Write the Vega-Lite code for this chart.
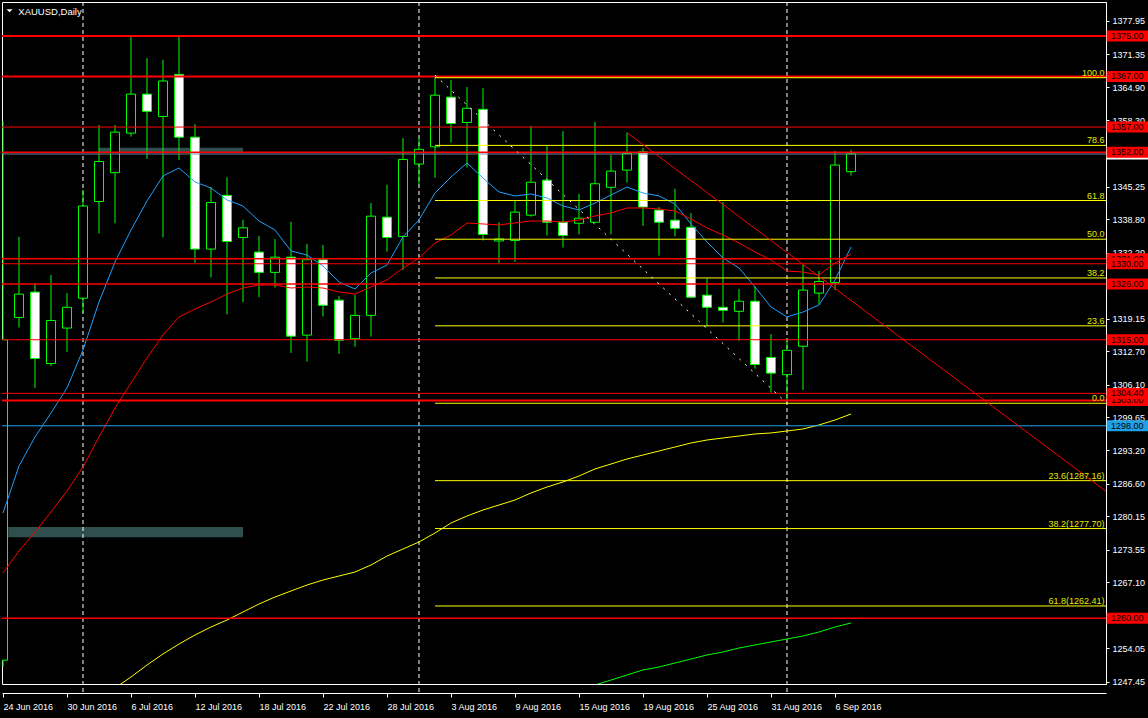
{
  "$schema": "https://vega.github.io/schema/vega-lite/v6.json",
  "width": 1104,
  "height": 682,
  "autosize": {"type": "none"},
  "padding": {"left": 2, "top": 2, "right": 42, "bottom": 34},
  "background": "#000000",
  "config": {"view": {"stroke": "#FFFFFF", "strokeWidth": 1}, "axis": {"title": null, "grid": false, "labelOverlap": false}, "scale": {"continuousPadding": 0}},
  "datasets": {
    "candles": [
      {"d": "2016-06-24", "i": 0, "open": 1251.7, "high": 1358.2, "low": 1250.4, "close": 1315.0},
      {"d": "2016-06-27", "i": 1, "open": 1319.4, "high": 1335.3, "low": 1317.4, "close": 1324.0},
      {"d": "2016-06-28", "i": 2, "open": 1324.4, "high": 1326.2, "low": 1305.5, "close": 1311.3},
      {"d": "2016-06-29", "i": 3, "open": 1310.3, "high": 1327.8, "low": 1309.8, "close": 1318.8},
      {"d": "2016-06-30", "i": 4, "open": 1317.3, "high": 1324.2, "low": 1312.6, "close": 1321.4},
      {"d": "2016-07-01", "i": 5, "open": 1323.2, "high": 1344.6, "low": 1320.3, "close": 1341.4},
      {"d": "2016-07-04", "i": 6, "open": 1342.3, "high": 1357.4, "low": 1336.0, "close": 1350.2},
      {"d": "2016-07-05", "i": 7, "open": 1348.0, "high": 1357.4, "low": 1338.0, "close": 1356.0},
      {"d": "2016-07-06", "i": 8, "open": 1355.8, "high": 1374.9, "low": 1355.1, "close": 1363.5},
      {"d": "2016-07-07", "i": 9, "open": 1363.5, "high": 1370.6, "low": 1350.7, "close": 1360.1},
      {"d": "2016-07-08", "i": 10, "open": 1359.1, "high": 1370.3, "low": 1335.2, "close": 1366.1},
      {"d": "2016-07-11", "i": 11, "open": 1367.4, "high": 1374.9, "low": 1350.5, "close": 1355.0},
      {"d": "2016-07-12", "i": 12, "open": 1355.0, "high": 1357.6, "low": 1330.2, "close": 1332.9},
      {"d": "2016-07-13", "i": 13, "open": 1332.9, "high": 1345.1, "low": 1327.3, "close": 1342.1},
      {"d": "2016-07-14", "i": 14, "open": 1343.5, "high": 1347.1, "low": 1320.0, "close": 1334.4},
      {"d": "2016-07-15", "i": 15, "open": 1335.2, "high": 1338.7, "low": 1322.4, "close": 1337.1},
      {"d": "2016-07-18", "i": 16, "open": 1332.3, "high": 1335.5, "low": 1323.4, "close": 1328.3},
      {"d": "2016-07-19", "i": 17, "open": 1328.3, "high": 1334.9, "low": 1325.3, "close": 1331.3},
      {"d": "2016-07-20", "i": 18, "open": 1331.3, "high": 1338.3, "low": 1312.4, "close": 1315.7},
      {"d": "2016-07-21", "i": 19, "open": 1315.9, "high": 1333.9, "low": 1310.7, "close": 1330.8},
      {"d": "2016-07-22", "i": 20, "open": 1330.8, "high": 1333.7, "low": 1319.6, "close": 1321.8},
      {"d": "2016-07-25", "i": 21, "open": 1322.8, "high": 1323.6, "low": 1312.2, "close": 1314.9},
      {"d": "2016-07-26", "i": 22, "open": 1315.2, "high": 1323.8, "low": 1313.6, "close": 1319.8},
      {"d": "2016-07-27", "i": 23, "open": 1319.8, "high": 1342.0, "low": 1315.6, "close": 1339.4},
      {"d": "2016-07-28", "i": 24, "open": 1339.2, "high": 1345.6, "low": 1332.4, "close": 1335.2},
      {"d": "2016-07-29", "i": 25, "open": 1335.4, "high": 1354.8, "low": 1328.8, "close": 1350.6},
      {"d": "2016-08-01", "i": 26, "open": 1349.7, "high": 1354.8, "low": 1345.6, "close": 1352.6},
      {"d": "2016-08-02", "i": 27, "open": 1353.1, "high": 1367.2, "low": 1347.0, "close": 1363.3},
      {"d": "2016-08-03", "i": 28, "open": 1362.9, "high": 1366.3, "low": 1353.9, "close": 1357.7},
      {"d": "2016-08-04", "i": 29, "open": 1357.9, "high": 1364.9, "low": 1349.0, "close": 1360.7},
      {"d": "2016-08-05", "i": 30, "open": 1360.5, "high": 1364.7, "low": 1334.6, "close": 1335.8},
      {"d": "2016-08-08", "i": 31, "open": 1334.5, "high": 1338.2, "low": 1330.1, "close": 1334.9},
      {"d": "2016-08-09", "i": 32, "open": 1334.6, "high": 1342.5, "low": 1330.4, "close": 1340.2},
      {"d": "2016-08-10", "i": 33, "open": 1339.6, "high": 1357.2, "low": 1339.3, "close": 1346.1},
      {"d": "2016-08-11", "i": 34, "open": 1346.5, "high": 1353.3, "low": 1335.6, "close": 1338.2},
      {"d": "2016-08-12", "i": 35, "open": 1338.2, "high": 1356.2, "low": 1333.2, "close": 1335.6},
      {"d": "2016-08-15", "i": 36, "open": 1338.0, "high": 1343.8, "low": 1335.8, "close": 1339.0},
      {"d": "2016-08-16", "i": 37, "open": 1338.2, "high": 1358.0, "low": 1338.0, "close": 1345.8},
      {"d": "2016-08-17", "i": 38, "open": 1345.1, "high": 1351.5, "low": 1335.8, "close": 1348.3},
      {"d": "2016-08-18", "i": 39, "open": 1348.5, "high": 1355.9, "low": 1346.0, "close": 1351.8},
      {"d": "2016-08-19", "i": 40, "open": 1352.1, "high": 1352.9, "low": 1337.5, "close": 1341.2},
      {"d": "2016-08-22", "i": 41, "open": 1340.6, "high": 1341.2, "low": 1331.6, "close": 1338.2},
      {"d": "2016-08-23", "i": 42, "open": 1338.6, "high": 1344.8, "low": 1335.4, "close": 1337.0},
      {"d": "2016-08-24", "i": 43, "open": 1337.2, "high": 1340.0, "low": 1323.2, "close": 1323.4},
      {"d": "2016-08-25", "i": 44, "open": 1323.8, "high": 1327.1, "low": 1317.6, "close": 1321.4},
      {"d": "2016-08-26", "i": 45, "open": 1321.4, "high": 1342.2, "low": 1318.4, "close": 1320.8},
      {"d": "2016-08-29", "i": 46, "open": 1320.6, "high": 1325.0, "low": 1314.8, "close": 1322.6},
      {"d": "2016-08-30", "i": 47, "open": 1322.6, "high": 1325.5, "low": 1309.3, "close": 1310.1},
      {"d": "2016-08-31", "i": 48, "open": 1311.5, "high": 1316.1, "low": 1304.6, "close": 1308.4},
      {"d": "2016-09-01", "i": 49, "open": 1308.1, "high": 1315.1, "low": 1302.5, "close": 1312.9},
      {"d": "2016-09-02", "i": 50, "open": 1313.7, "high": 1329.9, "low": 1305.1, "close": 1324.8},
      {"d": "2016-09-05", "i": 51, "open": 1324.2, "high": 1328.6, "low": 1322.0, "close": 1326.5},
      {"d": "2016-09-06", "i": 52, "open": 1326.3, "high": 1352.3, "low": 1324.8, "close": 1349.5},
      {"d": "2016-09-07", "i": 53, "open": 1348.2, "high": 1352.5, "low": 1347.4, "close": 1351.7}
    ],
    "ma": [
      {"i": 0, "fast": 1280.77, "medium": 1268.92},
      {"i": 1, "fast": 1290.06, "medium": 1273.27},
      {"i": 2, "fast": 1295.79, "medium": 1277.02},
      {"i": 3, "fast": 1300.53, "medium": 1280.97},
      {"i": 4, "fast": 1305.46, "medium": 1285.12},
      {"i": 5, "fast": 1312.97, "medium": 1289.86},
      {"i": 6, "fast": 1322.45, "medium": 1295.79},
      {"i": 7, "fast": 1330.35, "medium": 1301.51, "slow": 1246.21},
      {"i": 8, "fast": 1336.67, "medium": 1306.45, "slow": 1248.38},
      {"i": 9, "fast": 1342.40, "medium": 1311.39, "slow": 1250.75},
      {"i": 10, "fast": 1347.34, "medium": 1315.93, "slow": 1252.93},
      {"i": 11, "fast": 1348.92, "medium": 1319.49, "slow": 1254.90},
      {"i": 12, "fast": 1346.15, "medium": 1321.07, "slow": 1256.68},
      {"i": 13, "fast": 1344.97, "medium": 1322.45, "slow": 1258.26},
      {"i": 14, "fast": 1342.60, "medium": 1324.03, "slow": 1259.64},
      {"i": 15, "fast": 1341.41, "medium": 1325.21, "slow": 1261.22},
      {"i": 16, "fast": 1338.45, "medium": 1325.81, "slow": 1262.80},
      {"i": 17, "fast": 1336.67, "medium": 1325.81, "slow": 1264.18},
      {"i": 18, "fast": 1332.52, "medium": 1325.21, "slow": 1265.37},
      {"i": 19, "fast": 1331.73, "medium": 1325.41, "slow": 1266.55},
      {"i": 20, "fast": 1329.56, "medium": 1325.21, "slow": 1267.54},
      {"i": 21, "fast": 1326.40, "medium": 1324.42, "slow": 1268.33},
      {"i": 22, "fast": 1325.02, "medium": 1324.03, "slow": 1269.12},
      {"i": 23, "fast": 1328.18, "medium": 1325.41, "slow": 1270.50},
      {"i": 24, "fast": 1329.76, "medium": 1326.80, "slow": 1272.28},
      {"i": 25, "fast": 1335.29, "medium": 1329.16, "slow": 1273.66},
      {"i": 26, "fast": 1338.65, "medium": 1331.14, "slow": 1275.05},
      {"i": 27, "fast": 1343.98, "medium": 1334.10, "slow": 1276.82},
      {"i": 28, "fast": 1347.14, "medium": 1335.68, "slow": 1278.80},
      {"i": 29, "fast": 1349.90, "medium": 1338.05, "slow": 1280.18},
      {"i": 30, "fast": 1346.94, "medium": 1337.86, "slow": 1281.37},
      {"i": 31, "fast": 1344.18, "medium": 1337.66, "slow": 1282.35},
      {"i": 32, "fast": 1343.39, "medium": 1338.05, "slow": 1283.34},
      {"i": 33, "fast": 1343.78, "medium": 1338.45, "slow": 1284.73},
      {"i": 34, "fast": 1342.99, "medium": 1338.45, "slow": 1285.91},
      {"i": 35, "fast": 1341.41, "medium": 1338.25, "slow": 1286.90},
      {"i": 36, "fast": 1340.62, "medium": 1338.65, "slow": 1288.08, "long": 1245.82},
      {"i": 37, "fast": 1342.00, "medium": 1339.44, "slow": 1289.47, "long": 1246.80},
      {"i": 38, "fast": 1343.58, "medium": 1340.03, "slow": 1290.45, "long": 1247.79},
      {"i": 39, "fast": 1345.16, "medium": 1341.02, "slow": 1291.44, "long": 1248.78},
      {"i": 40, "fast": 1343.98, "medium": 1341.02, "slow": 1292.23, "long": 1249.77},
      {"i": 41, "fast": 1343.39, "medium": 1340.82, "slow": 1293.02, "long": 1250.36},
      {"i": 42, "fast": 1341.81, "medium": 1340.42, "slow": 1293.81, "long": 1251.15},
      {"i": 43, "fast": 1337.86, "medium": 1338.84, "slow": 1294.60, "long": 1251.94},
      {"i": 44, "fast": 1334.30, "medium": 1337.07, "slow": 1295.19, "long": 1252.73},
      {"i": 45, "fast": 1331.14, "medium": 1335.68, "slow": 1295.59, "long": 1253.32},
      {"i": 46, "fast": 1329.16, "medium": 1334.10, "slow": 1295.98, "long": 1254.11},
      {"i": 47, "fast": 1325.41, "medium": 1332.32, "slow": 1296.38, "long": 1254.70},
      {"i": 48, "fast": 1321.46, "medium": 1330.75, "slow": 1296.58, "long": 1255.30},
      {"i": 49, "fast": 1319.49, "medium": 1328.57, "slow": 1296.97, "long": 1255.89},
      {"i": 50, "fast": 1320.47, "medium": 1328.37, "slow": 1297.37, "long": 1256.48},
      {"i": 51, "fast": 1321.86, "medium": 1327.78, "slow": 1298.16, "long": 1257.27},
      {"i": 52, "fast": 1326.80, "medium": 1330.15, "slow": 1299.14, "long": 1258.26},
      {"i": 53, "fast": 1333.31, "medium": 1331.93, "slow": 1300.33, "long": 1259.05}
    ],
    "zones": [
      {"i0": 6.0, "i1": 15.0, "top": 1352.9, "bottom": 1352.0},
      {"i0": 0.33, "i1": 15.0, "top": 1278.0, "bottom": 1276.0}
    ],
    "separators": [{"i": 5, "d": "2016-07-01"}, {"i": 26, "d": "2016-08-01"}, {"i": 49, "d": "2016-09-01"}],
    "redThick": [{"price": 1375.0}, {"price": 1367.0}, {"price": 1303.0}],
    "redMid": [{"price": 1352.0}, {"price": 1331.0}, {"price": 1326.0}, {"price": 1260.0}],
    "redThin": [{"price": 1357.0}, {"price": 1330.0}, {"price": 1315.0}, {"price": 1304.4}],
    "blueLevel": [{"price": 1298.0}],
    "bid": [{"price": 1351.68}],
    "fib": [
      {"label": "100.0", "price": 1366.75, "start": 27},
      {"label": "78.6", "price": 1353.38, "start": 27},
      {"label": "61.8", "price": 1342.49, "start": 27},
      {"label": "50.0", "price": 1334.85, "start": 27},
      {"label": "38.2", "price": 1327.2, "start": 27},
      {"label": "23.6", "price": 1317.74, "start": 27},
      {"label": "0.0", "price": 1302.45, "start": 27},
      {"label": "23.6(1287.16)", "price": 1287.16, "start": 27},
      {"label": "38.2(1277.70)", "price": 1277.7, "start": 27},
      {"label": "61.8(1262.41)", "price": 1262.41, "start": 27}
    ],
    "fibTrend": [{"i": 27, "price": 1367.24}, {"i": 49, "price": 1302.45}],
    "redTrend": [{"i": 39, "price": 1355.9}, {"i": 69, "price": 1284.9}],
    "tagsBack": [{"price": 1331.0}, {"price": 1303.0}],
    "tagsFront": [{"price": 1375.0}, {"price": 1367.0}, {"price": 1357.0}, {"price": 1352.0}, {"price": 1330.0}, {"price": 1326.0}, {"price": 1315.0}, {"price": 1304.4}, {"price": 1260.0}],
    "tagBlue": [{"price": 1298.0}],
    "heading": [{"text": "XAUUSD,Daily"}]
  },
  "layer": [
    {
      "data": {"name": "zones"},
      "mark": {"type": "rect", "color": "#2F4F4F", "clip": true},
      "encoding": {
        "x": {"field": "i0", "type": "quantitative", "scale": {"domain": [-0.0625, 68.9375], "nice": false, "zero": false, "padding": 0},
          "axis": {"orient": "bottom", "offset": 9, "values": [0, 4, 8, 12, 16, 20, 24, 28, 32, 36, 40, 44, 48, 52], "tickCount": 100,
            "labelExpr": "['24 Jun 2016','30 Jun 2016','6 Jul 2016','12 Jul 2016','18 Jul 2016','22 Jul 2016','28 Jul 2016','3 Aug 2016','9 Aug 2016','15 Aug 2016','19 Aug 2016','25 Aug 2016','31 Aug 2016','6 Sep 2016'][round(datum.value/4)]",
            "tickSize": 4, "tickColor": "#FFFFFF", "domainColor": "#FFFFFF", "labelColor": "#FFFFFF", "labelFont": "Liberation Sans", "labelFontSize": 9,
            "labelAlign": "left", "labelBaseline": "top", "labelPadding": 5, "labelFlush": false, "labelOverlap": false, "labelBound": false, "grid": false, "title": null}},
        "x2": {"field": "i1"},
        "y": {"field": "top", "type": "quantitative", "scale": {"domain": [1247.0, 1381.7], "nice": false, "zero": false, "padding": 0},
          "axis": {"orient": "right", "values": [1247.45, 1254.05, 1260.55, 1267.1, 1273.55, 1280.15, 1286.6, 1293.2, 1299.65, 1306.1, 1312.7, 1319.15, 1325.7, 1332.2, 1338.8, 1345.25, 1351.75, 1358.3, 1364.9, 1371.35, 1377.95], "tickCount": 100,
            "format": ".2f", "tickSize": 3, "tickColor": "#FFFFFF", "domainColor": "#FFFFFF", "labelColor": "#FFFFFF", "labelFont": "Liberation Sans", "labelFontSize": 9,
            "labelPadding": 3, "labelBaseline": "middle", "labelFlush": false, "labelOverlap": false, "labelBound": false, "grid": false, "title": null}},
        "y2": {"field": "bottom"}
      }
    },
    {
      "data": {"name": "separators"},
      "mark": {"type": "rule", "color": "#FFFFFF", "strokeWidth": 1, "strokeDash": [4, 3], "clip": false},
      "encoding": {
        "x": {"field": "i", "type": "quantitative", "scale": {"domain": [-0.0625, 68.9375], "nice": false, "zero": false, "padding": 0}},
        "y": {"datum": 1381.7, "type": "quantitative", "scale": {"domain": [1247.0, 1381.7], "nice": false, "zero": false, "padding": 0}},
        "y2": {"datum": 1244.85}
      }
    },
    {
      "data": {"name": "candles"},
      "mark": {"type": "rule", "color": "#00FF00", "strokeWidth": 1, "clip": true},
      "encoding": {
        "x": {"field": "i", "type": "quantitative", "scale": {"domain": [-0.0625, 68.9375], "nice": false, "zero": false, "padding": 0}},
        "y": {"field": "low", "type": "quantitative", "scale": {"domain": [1247.0, 1381.7], "nice": false, "zero": false, "padding": 0}},
        "y2": {"field": "high"}
      }
    },
    {
      "data": {"name": "candles"},
      "mark": {"type": "bar", "size": 9, "stroke": "#00FF00", "strokeWidth": 1, "clip": true},
      "encoding": {
        "x": {"field": "i", "type": "quantitative", "scale": {"domain": [-0.0625, 68.9375], "nice": false, "zero": false, "padding": 0}},
        "y": {"field": "open", "type": "quantitative", "scale": {"domain": [1247.0, 1381.7], "nice": false, "zero": false, "padding": 0}},
        "y2": {"field": "close"},
        "fill": {"condition": {"test": "datum.close >= datum.open", "value": "#000000"}, "value": "#FFFFFF"}
      }
    },
    {
      "data": {"name": "ma"},
      "mark": {"type": "line", "color": "#1EA0FF", "strokeWidth": 1, "clip": true},
      "encoding": {
        "x": {"field": "i", "type": "quantitative", "scale": {"domain": [-0.0625, 68.9375], "nice": false, "zero": false, "padding": 0}},
        "y": {"field": "fast", "type": "quantitative", "scale": {"domain": [1247.0, 1381.7], "nice": false, "zero": false, "padding": 0}}
      }
    },
    {
      "data": {"name": "ma"},
      "mark": {"type": "line", "color": "#FF0000", "strokeWidth": 1, "clip": true},
      "encoding": {
        "x": {"field": "i", "type": "quantitative", "scale": {"domain": [-0.0625, 68.9375], "nice": false, "zero": false, "padding": 0}},
        "y": {"field": "medium", "type": "quantitative", "scale": {"domain": [1247.0, 1381.7], "nice": false, "zero": false, "padding": 0}}
      }
    },
    {
      "data": {"name": "ma"},
      "mark": {"type": "line", "color": "#FFFF00", "strokeWidth": 1, "clip": true},
      "encoding": {
        "x": {"field": "i", "type": "quantitative", "scale": {"domain": [-0.0625, 68.9375], "nice": false, "zero": false, "padding": 0}},
        "y": {"field": "slow", "type": "quantitative", "scale": {"domain": [1247.0, 1381.7], "nice": false, "zero": false, "padding": 0}}
      }
    },
    {
      "data": {"name": "ma"},
      "mark": {"type": "line", "color": "#00FF00", "strokeWidth": 1, "clip": true},
      "encoding": {
        "x": {"field": "i", "type": "quantitative", "scale": {"domain": [-0.0625, 68.9375], "nice": false, "zero": false, "padding": 0}},
        "y": {"field": "long", "type": "quantitative", "scale": {"domain": [1247.0, 1381.7], "nice": false, "zero": false, "padding": 0}}
      }
    },
    {
      "data": {"name": "redThick"},
      "mark": {"type": "rule", "color": "#FF0000", "strokeWidth": 2},
      "encoding": {"y": {"field": "price", "type": "quantitative", "scale": {"domain": [1247.0, 1381.7], "nice": false, "zero": false, "padding": 0}}}
    },
    {
      "data": {"name": "redMid"},
      "mark": {"type": "rule", "color": "#FF0000", "strokeWidth": 1.5},
      "encoding": {"y": {"field": "price", "type": "quantitative", "scale": {"domain": [1247.0, 1381.7], "nice": false, "zero": false, "padding": 0}}}
    },
    {
      "data": {"name": "redThin"},
      "mark": {"type": "rule", "color": "#FF0000", "strokeWidth": 1},
      "encoding": {"y": {"field": "price", "type": "quantitative", "scale": {"domain": [1247.0, 1381.7], "nice": false, "zero": false, "padding": 0}}}
    },
    {
      "data": {"name": "blueLevel"},
      "mark": {"type": "rule", "color": "#22A0E6", "strokeWidth": 1},
      "encoding": {"y": {"field": "price", "type": "quantitative", "scale": {"domain": [1247.0, 1381.7], "nice": false, "zero": false, "padding": 0}}}
    },
    {
      "data": {"name": "bid"},
      "mark": {"type": "rule", "color": "#778899", "strokeWidth": 1},
      "encoding": {"y": {"field": "price", "type": "quantitative", "scale": {"domain": [1247.0, 1381.7], "nice": false, "zero": false, "padding": 0}}}
    },
    {
      "data": {"name": "fib"},
      "mark": {"type": "rule", "color": "#FFFF00", "strokeWidth": 1, "clip": true},
      "encoding": {
        "x": {"field": "start", "type": "quantitative", "scale": {"domain": [-0.0625, 68.9375], "nice": false, "zero": false, "padding": 0}},
        "x2": {"datum": 69.5},
        "y": {"field": "price", "type": "quantitative", "scale": {"domain": [1247.0, 1381.7], "nice": false, "zero": false, "padding": 0}}
      }
    },
    {
      "data": {"name": "fibTrend"},
      "mark": {"type": "line", "color": "#FFFFFF", "strokeWidth": 1, "strokeDash": [2, 6], "clip": true},
      "encoding": {
        "x": {"field": "i", "type": "quantitative", "scale": {"domain": [-0.0625, 68.9375], "nice": false, "zero": false, "padding": 0}},
        "y": {"field": "price", "type": "quantitative", "scale": {"domain": [1247.0, 1381.7], "nice": false, "zero": false, "padding": 0}}
      }
    },
    {
      "data": {"name": "redTrend"},
      "mark": {"type": "line", "color": "#FF0000", "strokeWidth": 1, "clip": true},
      "encoding": {
        "x": {"field": "i", "type": "quantitative", "scale": {"domain": [-0.0625, 68.9375], "nice": false, "zero": false, "padding": 0}},
        "y": {"field": "price", "type": "quantitative", "scale": {"domain": [1247.0, 1381.7], "nice": false, "zero": false, "padding": 0}}
      }
    },
    {
      "data": {"name": "fib"},
      "mark": {"type": "text", "color": "#E8E800", "font": "Liberation Sans", "fontSize": 9, "align": "right", "baseline": "alphabetic", "dy": -2, "clip": false},
      "encoding": {
        "x": {"datum": 68.84, "scale": {"domain": [-0.0625, 68.9375], "nice": false, "zero": false, "padding": 0}},
        "y": {"field": "price", "type": "quantitative", "scale": {"domain": [1247.0, 1381.7], "nice": false, "zero": false, "padding": 0}},
        "text": {"field": "label"}
      }
    },
    {
      "data": {"name": "bid"},
      "mark": {"type": "bar", "orient": "horizontal", "size": 11, "color": "#FFFFFF", "clip": false},
      "encoding": {
        "x": {"datum": 68.98, "scale": {"domain": [-0.0625, 68.9375], "nice": false, "zero": false, "padding": 0}},
        "x2": {"datum": 71.7},
        "y": {"field": "price", "type": "quantitative", "scale": {"domain": [1247.0, 1381.7], "nice": false, "zero": false, "padding": 0}}
      }
    },
    {
      "data": {"name": "tagsBack"},
      "layer": [
        {
          "mark": {"type": "bar", "orient": "horizontal", "size": 11, "color": "#FF0000", "clip": false},
          "encoding": {
            "x": {"datum": 68.98, "scale": {"domain": [-0.0625, 68.9375], "nice": false, "zero": false, "padding": 0}},
            "x2": {"datum": 71.7},
            "y": {"field": "price", "type": "quantitative", "scale": {"domain": [1247.0, 1381.7], "nice": false, "zero": false, "padding": 0}}
          }
        },
        {
          "mark": {"type": "text", "color": "#000000", "font": "Liberation Sans", "fontSize": 9, "align": "left", "baseline": "middle", "clip": false},
          "encoding": {
            "x": {"datum": 69.25, "scale": {"domain": [-0.0625, 68.9375], "nice": false, "zero": false, "padding": 0}},
            "y": {"field": "price", "type": "quantitative", "scale": {"domain": [1247.0, 1381.7], "nice": false, "zero": false, "padding": 0}},
            "text": {"field": "price", "type": "quantitative", "format": ".2f"}
          }
        }
      ]
    },
    {
      "data": {"name": "tagsFront"},
      "layer": [
        {
          "mark": {"type": "bar", "orient": "horizontal", "size": 11, "color": "#FF0000", "clip": false},
          "encoding": {
            "x": {"datum": 68.98, "scale": {"domain": [-0.0625, 68.9375], "nice": false, "zero": false, "padding": 0}},
            "x2": {"datum": 71.7},
            "y": {"field": "price", "type": "quantitative", "scale": {"domain": [1247.0, 1381.7], "nice": false, "zero": false, "padding": 0}}
          }
        },
        {
          "mark": {"type": "text", "color": "#000000", "font": "Liberation Sans", "fontSize": 9, "align": "left", "baseline": "middle", "clip": false},
          "encoding": {
            "x": {"datum": 69.25, "scale": {"domain": [-0.0625, 68.9375], "nice": false, "zero": false, "padding": 0}},
            "y": {"field": "price", "type": "quantitative", "scale": {"domain": [1247.0, 1381.7], "nice": false, "zero": false, "padding": 0}},
            "text": {"field": "price", "type": "quantitative", "format": ".2f"}
          }
        }
      ]
    },
    {
      "data": {"name": "tagBlue"},
      "layer": [
        {
          "mark": {"type": "bar", "orient": "horizontal", "size": 11, "color": "#22A0E6", "clip": false},
          "encoding": {
            "x": {"datum": 68.98, "scale": {"domain": [-0.0625, 68.9375], "nice": false, "zero": false, "padding": 0}},
            "x2": {"datum": 71.7},
            "y": {"field": "price", "type": "quantitative", "scale": {"domain": [1247.0, 1381.7], "nice": false, "zero": false, "padding": 0}}
          }
        },
        {
          "mark": {"type": "text", "color": "#000000", "font": "Liberation Sans", "fontSize": 9, "align": "left", "baseline": "middle", "clip": false},
          "encoding": {
            "x": {"datum": 69.25, "scale": {"domain": [-0.0625, 68.9375], "nice": false, "zero": false, "padding": 0}},
            "y": {"field": "price", "type": "quantitative", "scale": {"domain": [1247.0, 1381.7], "nice": false, "zero": false, "padding": 0}},
            "text": {"field": "price", "type": "quantitative", "format": ".2f"}
          }
        }
      ]
    },
    {
      "data": {"name": "heading"},
      "mark": {"type": "text", "color": "#FFFFFF", "font": "Liberation Sans", "fontSize": 9.5, "align": "left", "baseline": "alphabetic", "clip": false},
      "encoding": {
        "x": {"datum": 0.956, "scale": {"domain": [-0.0625, 68.9375], "nice": false, "zero": false, "padding": 0}},
        "y": {"datum": 1379.14, "scale": {"domain": [1247.0, 1381.7], "nice": false, "zero": false, "padding": 0}},
        "text": {"field": "text"}
      }
    },
    {
      "data": {"name": "heading"},
      "mark": {"type": "point", "shape": "M-1,-0.5L1,-0.5L0,0.5Z", "size": 36, "filled": true, "color": "#FFFFFF", "opacity": 1, "clip": false},
      "encoding": {
        "x": {"datum": 0.406, "scale": {"domain": [-0.0625, 68.9375], "nice": false, "zero": false, "padding": 0}},
        "y": {"datum": 1379.96, "scale": {"domain": [1247.0, 1381.7], "nice": false, "zero": false, "padding": 0}}
      }
    },
    {
      "mark": {"type": "rule", "color": "#FFFFFF", "strokeWidth": 1, "clip": false},
      "encoding": {"y": {"datum": 1246.6, "scale": {"domain": [1247.0, 1381.7], "nice": false, "zero": false, "padding": 0}}}
    },
    {
      "mark": {"type": "rule", "color": "#FFFFFF", "strokeWidth": 1, "clip": false},
      "encoding": {"y": {"datum": 1245.62, "scale": {"domain": [1247.0, 1381.7], "nice": false, "zero": false, "padding": 0}}}
    },
    {
      "mark": {"type": "rule", "color": "#FFFFFF", "strokeWidth": 1, "clip": false},
      "encoding": {
        "x": {"datum": -0.0625, "scale": {"domain": [-0.0625, 68.9375], "nice": false, "zero": false, "padding": 0}},
        "y": {"datum": 1247.0, "scale": {"domain": [1247.0, 1381.7], "nice": false, "zero": false, "padding": 0}},
        "y2": {"datum": 1244.85}
      }
    },
    {
      "mark": {"type": "rule", "color": "#FFFFFF", "strokeWidth": 1, "clip": false},
      "encoding": {
        "x": {"datum": 68.9375, "scale": {"domain": [-0.0625, 68.9375], "nice": false, "zero": false, "padding": 0}},
        "y": {"datum": 1247.0, "scale": {"domain": [1247.0, 1381.7], "nice": false, "zero": false, "padding": 0}},
        "y2": {"datum": 1245.62}
      }
    }
  ]
}
